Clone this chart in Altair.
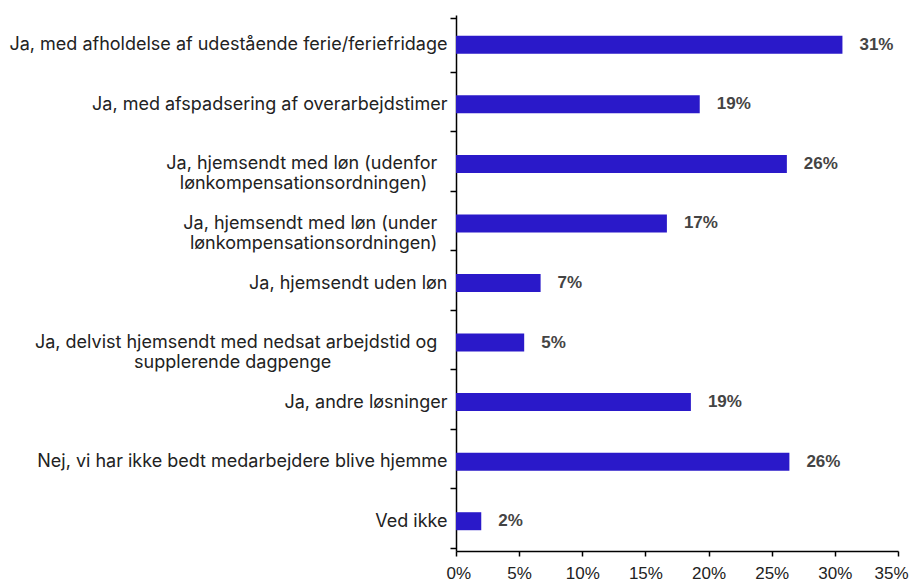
import altair as alt
import pandas as pd

B = "\u2800"   # blank glyph used to pad the shorter line of a wrapped label
N = "\u00a0"
W = "\u2060"
categories = [
    "Ja, med afholdelse af udestående ferie/feriefridage",
    "Ja, med afspadsering af overarbejdstimer",
    "Ja, hjemsendt med løn (udenfor" + N * 2 + W + "|lønkompensationsordningen)" + N * 4 + W,
    "Ja, hjemsendt med løn (under" + N * 2 + W + "|lønkompensationsordningen)" + N * 2 + W,
    "Ja, hjemsendt uden løn",
    "Ja, delvist hjemsendt med nedsat arbejdstid og" + N * 2 + W + "|supplerende dagpenge" + N * 5 + B * 7,
    "Ja, andre løsninger",
    "Nej, vi har ikke bedt medarbejdere blive hjemme",
    "Ved ikke",
]
values = [0.306, 0.193, 0.262, 0.167, 0.067, 0.054, 0.186, 0.264, 0.020]
ticks = [0, 0.05, 0.1, 0.15, 0.2, 0.25, 0.3, 0.35]

df = pd.DataFrame({"cat": categories, "val": values})

y = alt.Y("cat:N", sort=categories, title=None,
          axis=alt.Axis(labelExpr="split(datum.label, '|')", tickBand="extent",
                        labelFont="Inter", labelFontSize=18, labelColor="#222",
                        labelLineHeight=20, labelPadding=3, tickSize=6,
                        labelLimit=500, domainColor="#000", tickColor="#000",
                        domainWidth=1.5, tickWidth=1.5))

bars = alt.Chart(df).mark_bar(color="#2a19c9", size=18).encode(
    x=alt.X("val:Q", scale=alt.Scale(domain=[0, 0.35]), title=None,
            axis=alt.Axis(format="%", values=ticks, labelFlush=True, labelFlushOffset=10,
                          labelFont="Liberation Sans", labelFontSize=17, labelColor="#222",
                          labelPadding=9, tickSize=5, grid=False,
                          domainColor="#000", tickColor="#000",
                          domainWidth=1.5, tickWidth=1.5)),
    y=y,
)

labels = alt.Chart(df).mark_text(align="left", baseline="middle", dx=17,
                                 font="Liberation Sans", fontWeight="bold",
                                 fontSize=17, color="#444").encode(
    x="val:Q", y=alt.Y("cat:N", sort=categories),
    text=alt.Text("val:Q", format=".0%"),
)

chart = (bars + labels).properties(
    width=442, height=536,
    autosize=alt.AutoSizeParams(type="none"),
    padding={"left": 448, "top": 7, "right": 12, "bottom": 34},
).configure_view(stroke=None)

chart.save("out.html", embed_options={"renderer": "svg", "actions": False})
